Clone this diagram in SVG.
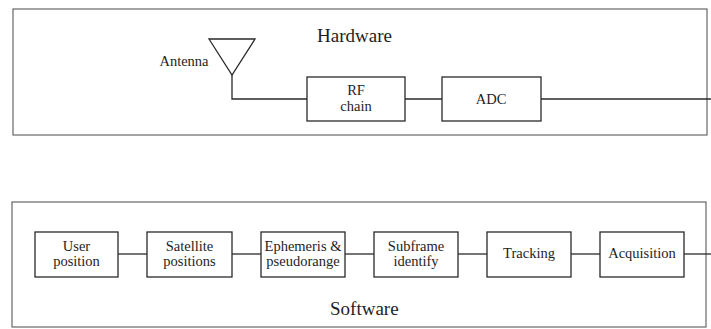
<svg xmlns="http://www.w3.org/2000/svg" width="711" height="329" viewBox="0 0 711 329">
  <style>
    .frame { fill: none; stroke: #5a5a5a; stroke-width: 1.1; }
    .box { fill: #ffffff; stroke: #2a2a2a; stroke-width: 1.3; }
    .wire { fill: none; stroke: #2a2a2a; stroke-width: 1.3; }
    .lbl { font-family: "Liberation Serif", "Times New Roman", serif; font-size: 14.5px; fill: #1e1e1e; text-anchor: middle; }
    .title { font-family: "Liberation Serif", "Times New Roman", serif; font-size: 19px; fill: #1e1e1e; }
  </style>
  <rect width="711" height="329" fill="#ffffff"/>

  <!-- Hardware section -->
  <g id="hardware">
    <rect class="frame" x="13" y="9" width="694" height="126"/>
    <text class="title" x="317" y="42">Hardware</text>
  </g>

  <!-- Software section -->
  <g id="software">
    <rect class="frame" x="12" y="202" width="694" height="125"/>
    <text class="title" x="330" y="315">Software</text>
  </g>

  <!-- Connectors -->
  <g id="connectors">
    <polyline class="wire" points="232,75 232,99 307,99"/>
    <line class="wire" x1="405" y1="99" x2="442" y2="99"/>
    <line class="wire" x1="541" y1="99" x2="711" y2="99"/>
    <line class="wire" x1="118" y1="254" x2="147" y2="254"/>
    <line class="wire" x1="232" y1="254" x2="261" y2="254"/>
    <line class="wire" x1="345" y1="254" x2="374" y2="254"/>
    <line class="wire" x1="458" y1="254" x2="487" y2="254"/>
    <line class="wire" x1="571" y1="254" x2="600" y2="254"/>
    <line class="wire" x1="684" y1="254" x2="711" y2="254"/>
  </g>

  <!-- Hardware nodes -->
  <g id="antenna">
    <polygon points="209,39 255,39 232,75" fill="none" stroke="#2a2a2a" stroke-width="1.3"/>
    <text class="lbl" x="184" y="66">Antenna</text>
  </g>
  <g id="rf-chain">
    <rect class="box" x="307" y="77" width="98" height="44"/>
    <text class="lbl" x="356" y="95">RF</text>
    <text class="lbl" x="356" y="111">chain</text>
  </g>
  <g id="adc">
    <rect class="box" x="442" y="77" width="99" height="44"/>
    <text class="lbl" x="491" y="104">ADC</text>
  </g>

  <!-- Software nodes -->
  <g id="user-position">
    <rect class="box" x="35" y="232" width="83" height="45"/>
    <text class="lbl" x="76.5" y="251">User</text>
    <text class="lbl" x="76.5" y="266">position</text>
  </g>
  <g id="satellite-positions">
    <rect class="box" x="147" y="232" width="85" height="45"/>
    <text class="lbl" x="189.5" y="251">Satellite</text>
    <text class="lbl" x="189.5" y="266">positions</text>
  </g>
  <g id="ephemeris-pseudorange">
    <rect class="box" x="261" y="232" width="84" height="45"/>
    <text class="lbl" x="303" y="251">Ephemeris &amp;</text>
    <text class="lbl" x="303" y="266">pseudorange</text>
  </g>
  <g id="subframe-identify">
    <rect class="box" x="374" y="232" width="84" height="45"/>
    <text class="lbl" x="416" y="251">Subframe</text>
    <text class="lbl" x="416" y="266">identify</text>
  </g>
  <g id="tracking">
    <rect class="box" x="487" y="232" width="84" height="45"/>
    <text class="lbl" x="529" y="258">Tracking</text>
  </g>
  <g id="acquisition">
    <rect class="box" x="600" y="232" width="84" height="45"/>
    <text class="lbl" x="642" y="258">Acquisition</text>
  </g>
</svg>
